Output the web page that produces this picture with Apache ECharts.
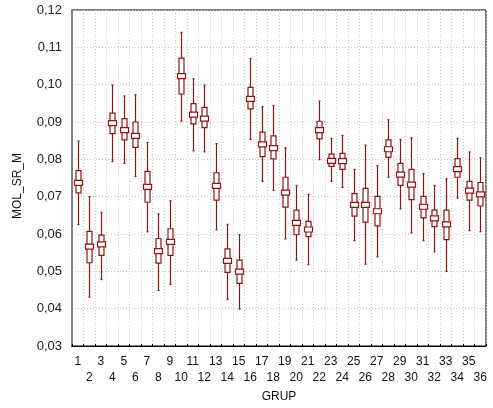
<!DOCTYPE html>
<html><head><meta charset="utf-8">
<script src="https://cdn.jsdelivr.net/npm/echarts@6/dist/echarts.min.js"></script>
<style>html,body{margin:0;padding:0;background:#fff}#c{width:493px;height:408px}</style>
</head><body><div id="c"></div>
<script>
const categories = ['1','2','3','4','5','6','7','8','9','10','11','12','13','14','15','16','17','18','19','20','21','22','23','24','25','26','27','28','29','30','31','32','33','34','35','36'];
const whiskerHigh = [0.0849,0.0700,0.0658,0.0999,0.0970,0.0973,0.0845,0.0654,0.0689,0.1140,0.1016,0.0999,0.0842,0.0626,0.0598,0.1070,0.0941,0.0944,0.0831,0.0730,0.0706,0.0956,0.0856,0.0864,0.0773,0.0838,0.0783,0.0906,0.0853,0.0858,0.0762,0.0730,0.0748,0.0856,0.0820,0.0804];
const boxHigh = [0.0770,0.0607,0.0597,0.0924,0.0909,0.0900,0.0768,0.0588,0.0614,0.1071,0.0949,0.0939,0.0764,0.0560,0.0530,0.0993,0.0873,0.0863,0.0752,0.0664,0.0634,0.0902,0.0814,0.0816,0.0708,0.0722,0.0701,0.0852,0.0789,0.0773,0.0701,0.0664,0.0664,0.0802,0.0741,0.0738];
const medians = [0.0737,0.0566,0.0572,0.0897,0.0878,0.0863,0.0726,0.0554,0.0579,0.1023,0.0920,0.0909,0.0729,0.0528,0.0499,0.0962,0.0840,0.0830,0.0711,0.0630,0.0612,0.0878,0.0796,0.0795,0.0678,0.0678,0.0661,0.0827,0.0759,0.0732,0.0673,0.0642,0.0626,0.0774,0.0716,0.0706];
const boxLow = [0.0710,0.0523,0.0543,0.0869,0.0852,0.0832,0.0685,0.0522,0.0543,0.0975,0.0895,0.0885,0.0691,0.0497,0.0468,0.0935,0.0807,0.0801,0.0672,0.0598,0.0593,0.0855,0.0781,0.0773,0.0648,0.0632,0.0622,0.0805,0.0730,0.0692,0.0643,0.0620,0.0585,0.0752,0.0691,0.0675];
const whiskerLow = [0.0625,0.0431,0.0478,0.0794,0.0789,0.0754,0.0606,0.0449,0.0465,0.0902,0.0823,0.0820,0.0611,0.0425,0.0399,0.0853,0.0741,0.0717,0.0587,0.0530,0.0518,0.0799,0.0741,0.0725,0.0582,0.0519,0.0539,0.0752,0.0667,0.0603,0.0582,0.0552,0.0500,0.0696,0.0609,0.0606];
const yTicks = [0.03,0.04,0.05,0.06,0.07,0.08,0.09,0.10,0.11,0.12];

const RED = '#8b1414';
const data = categories.map((c,i)=>[i, whiskerLow[i], boxLow[i], medians[i], boxHigh[i], whiskerHigh[i]]);

const chart = echarts.init(document.getElementById('c'), null, {renderer:'canvas'});
chart.setOption({
  animation:false,
  backgroundColor:'#fff',
  grid:{left:72,right:7,top:10,bottom:57,show:true,borderColor:'#000',borderWidth:1},
  xAxis:{
    type:'category', data:categories, boundaryGap:true,
    name:'GRUP', nameLocation:'middle', nameGap:45,
    nameTextStyle:{fontFamily:'Liberation Sans, Arial',fontSize:12,color:'#111'},
    axisLine:{lineStyle:{color:'#000',width:1}},
    axisTick:{show:true,inside:true,length:2,lineStyle:{color:'#000'}},
    axisLabel:{interval:0,fontFamily:'Liberation Sans, Arial',fontSize:12,color:'#111',margin:8,lineHeight:16,
      formatter:(v,i)=> (i%2===0? v : '\n'+v)},
    splitLine:{show:true,lineStyle:{color:'#c8c8c8',type:[1,2],width:1}}
  },
  yAxis:{
    type:'value', min:yTicks[0], max:yTicks[yTicks.length-1], interval:0.01,
    axisLine:{show:true,lineStyle:{color:'#808080',width:2}},
    axisTick:{show:false},
    axisLabel:{fontFamily:'Liberation Sans, Arial',fontSize:13,color:'#222',margin:10,
      formatter:v=>v.toFixed(2).replace('.',',')},
    splitLine:{show:true,lineStyle:{color:'#c8c8c8',type:[1,2],width:1}}
  },
  graphic:[{type:'text',left:12,top:153,rotation:Math.PI/2,
    style:{text:'MOL_SR_M',font:'12px "Liberation Sans", Arial',fill:'#111'}}],
  series:[{
    type:'custom',
    data:data,
    renderItem:function(params, api){
      const x = api.value(0);
      const pWL = api.coord([x, api.value(1)]);
      const pBL = api.coord([x, api.value(2)]);
      const pM = api.coord([x, api.value(3)]);
      const pBH = api.coord([x, api.value(4)]);
      const pWH = api.coord([x, api.value(5)]);
      const cx = Math.round(pM[0]) + 0.5;
      const bw = 5, mw = 8, mh = 5;
      const st = {stroke:RED, lineWidth:1.2, fill:null};
      return {type:'group', children:[
        {type:'line', shape:{x1:cx,y1:pWH[1],x2:cx,y2:pBH[1]}, style:st},
        {type:'line', shape:{x1:cx,y1:pBL[1],x2:cx,y2:pWL[1]}, style:st},
        {type:'line', shape:{x1:cx-1,y1:pWH[1],x2:cx+1,y2:pWH[1]}, style:st},
        {type:'line', shape:{x1:cx-1,y1:pWL[1],x2:cx+1,y2:pWL[1]}, style:st},
        {type:'rect', shape:{x:cx-bw/2,y:pBH[1],width:bw,height:pBL[1]-pBH[1]}, style:{stroke:RED,lineWidth:1.2,fill:'#fff'}},
        {type:'rect', shape:{x:cx-mw/2,y:pM[1]-mh/2,width:mw,height:mh}, style:{stroke:RED,lineWidth:1.2,fill:'#fff'}}
      ]};
    }
  }]
});
</script></body></html>
